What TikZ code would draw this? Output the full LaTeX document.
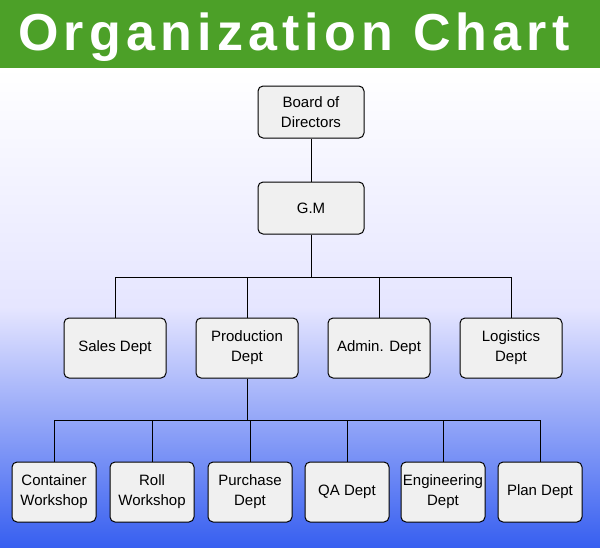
\documentclass[tikz,border=0pt]{standalone}
\usepackage{fontspec}
\setmainfont{Liberation Sans}
\begin{document}
\begin{tikzpicture}[x=1pt,y=-1pt,
 box/.style={draw=black,line width=1pt,rounded corners=5pt,fill=gray!12,align=center,font=\fontsize{15}{20}\selectfont,inner sep=0pt},
 top/.style={box,minimum width=106pt,minimum height=52pt},
 mid/.style={box,minimum width=102pt,minimum height=60pt},
 bot/.style={box,minimum width=84pt,minimum height=60pt},
 conn/.style={draw=black,line width=1pt}]
\useasboundingbox (0,0) rectangle (600,547);
\definecolor{hdr}{RGB}{76,160,40}
\definecolor{bl}{RGB}{55,95,240}
\fill[top color=white,bottom color=bl,middle color=blue!10] (0,68) rectangle (600,547);
\fill[hdr] (0,0) rectangle (600,68);
\node[text=white,font=\fontsize{52}{52}\selectfont\bfseries\addfontfeature{LetterSpace=10}] (title) at (294,37) {Organization Chart};
\node[top] (bd) at (311,112) {Board of\\Directors};
\node[top] (gm) at (311,208) {G.M};
\node[mid] (sa) at (115,348) {Sales Dept};
\node[mid] (pr) at (247,348) {Production\\Dept};
\node[mid] (ad) at (379,348) {Admin. Dept};
\node[mid] (lo) at (511,348) {Logistics\\Dept};
\node[bot] (c1) at (54,492) {Container\\Workshop};
\node[bot] (c2) at (152,492) {Roll\\Workshop};
\node[bot] (c3) at (250,492) {Purchase\\Dept};
\node[bot] (c4) at (347,492) {QA Dept};
\node[bot] (c5) at (443,492) {Engineering\\Dept};
\node[bot] (c6) at (540,492) {Plan Dept};
\draw[conn] (bd) -- (gm);
\coordinate (b1) at (311,277);
\draw[conn] (gm) -- (b1);
\foreach \n in {sa,pr,ad,lo}{\draw[conn] (b1) -| (\n.north);}
\coordinate (b2) at (247,420);
\draw[conn] (pr) -- (b2);
\foreach \n in {c1,c2,c3,c4,c5,c6}{\draw[conn] (b2) -| (\n.north);}
\end{tikzpicture}
\end{document}
